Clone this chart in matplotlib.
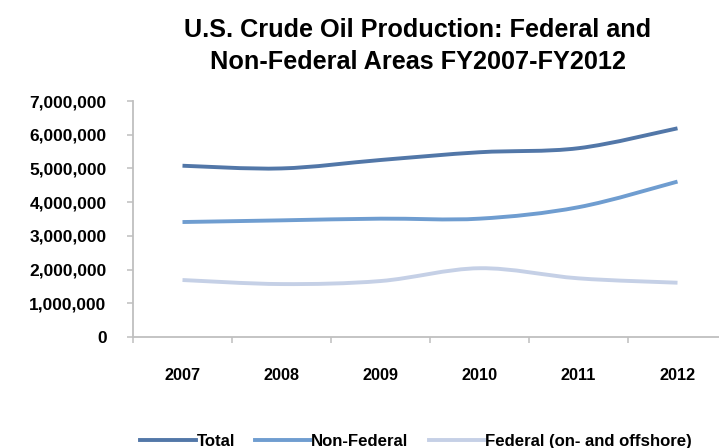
import matplotlib
matplotlib.use("Agg")
import matplotlib.pyplot as plt
from matplotlib.path import Path
from matplotlib.patches import PathPatch
from matplotlib.lines import Line2D
from matplotlib.ticker import FuncFormatter, FixedLocator

plt.rcParams['font.family'] = ['Liberation Sans', 'DejaVu Sans']
plt.rcParams['font.weight'] = 'bold'

# Fiscal years and production (barrels)
years = ['2007', '2008', '2009', '2010', '2011', '2012']
total = [5080000, 5000000, 5250000, 5480000, 5600000, 6190000]
non_federal = [3410000, 3460000, 3510000, 3510000, 3850000, 4610000]
federal = [1690000, 1570000, 1660000, 2040000, 1740000, 1610000]

series_names = ['Total', 'Non-Federal', 'Federal (on- and offshore)']
series_colors = ['#5277A8', '#6F9DD0', '#C5D0E6']


def smooth_path(xs, ys):
    # Excel style smoothed line: cubic bezier through each point
    n = len(xs)
    verts = [(xs[0], ys[0])]
    codes = [Path.MOVETO]
    for i in range(n - 1):
        x0, y0 = xs[max(i - 1, 0)], ys[max(i - 1, 0)]
        x1, y1 = xs[i], ys[i]
        x2, y2 = xs[i + 1], ys[i + 1]
        x3, y3 = xs[min(i + 2, n - 1)], ys[min(i + 2, n - 1)]
        c1 = (x1 + (x2 - x0) / 6, y1 + (y2 - y0) / 6)
        c2 = (x2 - (x3 - x1) / 6, y2 - (y3 - y1) / 6)
        verts += [c1, c2, (x2, y2)]
        codes += [Path.CURVE4] * 3
    return Path(verts, codes)


fig = plt.figure(figsize=(7.19, 4.48), dpi=100)
ax = fig.add_axes([133 / 719, 111 / 448, 594 / 719, 236 / 448])

xs = list(range(len(years)))
handles = []
for vals, name, col in zip([total, non_federal, federal], series_names, series_colors):
    ax.add_patch(PathPatch(smooth_path(xs, vals), fill=False, edgecolor=col,
                           linewidth=2.8, capstyle='butt', clip_on=False))
    handles.append(Line2D([], [], color=col, linewidth=2.8, label=name))

ax.set_xlim(-0.5, len(years) - 0.5)
ax.set_ylim(0, 7000000)

ax.set_yticks(range(0, 7000001, 1000000))
ax.yaxis.set_major_formatter(FuncFormatter(lambda v, p: f'{int(v):,}'))
ax.tick_params(axis='y', colors='#BFBFBF', length=4, width=1.1, labelcolor='black',
               labelsize=12.5, pad=15)

ax.xaxis.set_major_locator(FixedLocator([i - 0.5 for i in range(len(years) + 1)]))
ax.xaxis.set_major_formatter(FuncFormatter(lambda v, p: ''))
ax.set_xticks(xs, years, minor=True)
ax.tick_params(axis='x', which='major', colors='#BFBFBF', length=4, width=1.1)
ax.tick_params(axis='x', which='minor', length=0, labelsize=11.7, pad=22)

for s in ['top', 'right']:
    ax.spines[s].set_visible(False)
for s in ['left', 'bottom']:
    ax.spines[s].set_color('#BFBFBF')
    ax.spines[s].set_linewidth(1.3)

fig.text(418 / 719, 1 - 46 / 448,
         'U.S. Crude Oil Production: Federal and\nNon-Federal Areas FY2007-FY2012',
         ha='center', va='center', fontsize=18.2, fontweight='bold', linespacing=1.4)

fig.legend(handles=handles, loc='center', bbox_to_anchor=(416 / 719, 7 / 448),
           ncol=3, frameon=False, fontsize=12.1, handlelength=3.3,
           handletextpad=0.05, columnspacing=1.2)

fig.savefig('out.png', dpi=100)
